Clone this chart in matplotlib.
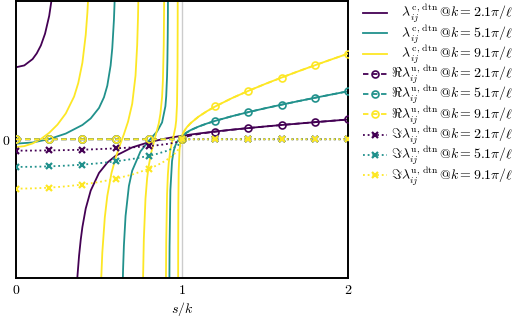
import numpy as np
import matplotlib
matplotlib.use("Agg")
import matplotlib.pyplot as plt

plt.rcParams['mathtext.fontset'] = 'cm'
plt.rcParams['font.family'] = ['DejaVu Serif']

# wavenumbers (in units of pi/ell) and colours
k_labels = ["2.1", "5.1", "9.1"]
colors = ["#440154", "#21918c", "#fde725"]

# ---- lambda^c,dtn branches (x = s/k, y = value) ----
c_purple = [
    ([0, 0.05, 0.1, 0.125, 0.15, 0.175, 0.2, 0.22, 0.25],
     [41.65, 42.72, 46.39, 49.7, 54.3, 61.1, 71.4, 84.4, 122]),
    ([0.35, 0.37, 0.38, 0.39, 0.4, 0.42, 0.45, 0.5, 0.55, 0.6, 0.7, 0.8, 0.9, 0.95,
      1.0, 1.02, 1.05, 1.1, 1.2, 1.3, 1.4, 1.5, 1.6, 1.8, 2.0],
     [-119.7, -79.4, -67.3, -58.1, -50.8, -40.1, -29.7, -19.5, -13.53, -9.59, -4.71,
      -1.71, 0.385, 1.237, 2.0, 2.285, 2.695, 3.333, 4.487, 5.526, 6.484, 7.386,
      8.244, 9.874, 11.426]),
]
c_teal = [
    ([0, 0.1, 0.2, 0.3, 0.4, 0.45, 0.5, 0.53, 0.55, 0.57, 0.58, 0.59, 0.595, 0.6],
     [-2.54, -1.87, 0.08, 3.29, 8.25, 12.05, 18.1, 24.3, 31.0, 42.7, 52.7, 69.2, 82.1, 101.5]),
    ([0.64, 0.645, 0.65, 0.66, 0.68, 0.7, 0.75, 0.8, 0.85, 0.88, 0.9, 0.905, 0.91,
      0.912, 0.914, 0.915, 0.917],
     [-95.8, -75.3, -61.5, -44.4, -27.1, -18.2, -7.02, -0.91, 4.53, 9.74, 19.1, 25.0,
      36.5, 45.2, 59.6, 71.2, 118]),
    ([0.923, 0.925, 0.93, 0.94, 0.95, 0.96, 0.97, 0.99, 1.0, 1.02, 1.05, 1.1, 1.15,
      1.2, 1.3, 1.4, 1.5, 1.6, 1.7, 1.8, 1.9, 2.0],
     [-104.6, -62.2, -29.5, -12.64, -6.71, -3.57, -1.54, 1.07, 2.0, 3.49, 5.19, 7.35,
      9.10, 10.63, 13.31, 15.70, 17.91, 20.01, 22.03, 23.98, 25.88, 27.75]),
]
c_yellow = [
    ([0, 0.05, 0.1, 0.15, 0.2, 0.25, 0.3, 0.35, 0.375, 0.4, 0.42, 0.43, 0.435, 0.44],
     [-4.53, -3.99, -2.43, 0.14, 3.72, 8.47, 14.95, 24.7, 32.5, 44.3, 60.4, 73.2, 82.0, 92.9]),
    ([0.5, 0.51, 0.52, 0.535, 0.55, 0.575, 0.6, 0.625, 0.65, 0.675, 0.7, 0.72, 0.73,
      0.735, 0.738, 0.74],
     [-130.5, -88.5, -65.5, -45.2, -32.8, -19.6, -10.78, -3.66, 2.91, 10.18, 20.5,
      36.8, 54.5, 70.7, 85.9, 100.3]),
    ([0.76, 0.765, 0.77, 0.78, 0.79, 0.8, 0.815, 0.83, 0.86, 0.87, 0.88, 0.885, 0.89, 0.893],
     [-137, -82.7, -58.0, -34.4, -22.5, -15.16, -7.57, -1.90, 9.13, 14.74, 24.5, 34.1,
      54.6, 85.1]),
    ([0.902, 0.903, 0.905, 0.91, 0.915, 0.92, 0.93, 0.94, 0.95, 0.96, 0.965, 0.97,
      0.973, 0.974, 0.9745],
     [-109.9, -86.0, -59.3, -31.8, -20.3, -13.8, -6.32, -1.62, 2.27, 6.87, 10.76, 20.1,
      41.5, 66.8, 97.4]),
    ([0.9765, 0.977, 0.978, 0.98, 0.985, 0.99, 0.995, 1.0, 1.005, 1.01, 1.02, 1.03,
      1.05, 1.1, 1.15, 1.2, 1.3, 1.4, 1.5, 1.6, 1.7, 1.8, 1.9, 2.0],
     [-101, -64.9, -37.0, -18.6, -6.15, -1.93, 0.41, 2.0, 3.21, 4.20, 5.78, 7.06,
      9.15, 13.10, 16.23, 18.96, 23.75, 28.01, 31.96, 35.71, 39.30, 42.79, 46.19, 49.52]),
]
c_branches = [c_purple, c_teal, c_yellow]

# ---- lambda^u,dtn real / imaginary parts on a common s/k grid ----
s_u = [0, 0.1, 0.2, 0.3, 0.4, 0.5, 0.6, 0.7, 0.8, 0.85, 0.9, 0.94, 0.97, 0.99, 1.0,
       1.01, 1.03, 1.06, 1.1, 1.15, 1.2, 1.3, 1.4, 1.5, 1.6, 1.7, 1.8, 1.9, 2.0]
re_purple = [0]*15 + [0.94, 1.63, 2.32, 3.02, 3.75, 4.38, 5.48, 6.46, 7.38, 8.24, 9.07, 9.87, 10.66, 11.43]
re_teal = [0]*15 + [2.27, 3.95, 5.63, 7.34, 9.10, 10.63, 13.31, 15.70, 17.91, 20.01, 22.03, 23.98, 25.88, 27.75]
re_yellow = [0]*15 + [4.05, 7.05, 10.05, 13.10, 16.23, 18.96, 23.75, 28.01, 31.96, 35.71, 39.30, 42.79, 46.19, 49.52]
im_purple = [-6.60, -6.56, -6.46, -6.29, -6.05, -5.71, -5.28, -4.71, -3.96, -3.48, -2.88, -2.25, -1.60, -0.93, 0] + [0]*14
im_teal = [-16.02, -15.94, -15.70, -15.28, -14.68, -13.88, -12.82, -11.44, -9.61, -8.44, -6.98, -5.47, -3.89, -2.26, 0] + [0]*14
im_yellow = [-28.59, -28.44, -28.01, -27.27, -26.20, -24.76, -22.87, -20.42, -17.15, -15.06, -12.46, -9.75, -6.95, -4.03, 0] + [0]*14
re_u = [re_purple, re_teal, re_yellow]
im_u = [im_purple, im_teal, im_yellow]

fig = plt.figure(figsize=(5.24, 3.20), dpi=100)
ax = fig.add_axes([16/524, 1 - 277.5/320, (348 - 16)/524, (277.5 - 1)/320])

ax.axvline(1.0, color="#cccccc", lw=1.0, zorder=0)

mark_idx = [i for i, v in enumerate(s_u) if abs(v * 5 - round(v * 5)) < 1e-9]

handles = []
for i, br in enumerate(c_branches):
    for xs, ys in br:
        ln, = ax.plot(xs, ys, color=colors[i], lw=1.3, zorder=2)
    ln.set_label(r"$\hspace{0.9}\lambda_{ij}^{\mathrm{c,\,dtn}}\,@k = %s\pi/\ell$" % k_labels[i])
    handles.append(ln)

for i in range(3):
    ln, = ax.plot(s_u, re_u[i], color=colors[i], lw=1.3, ls=(0, (3, 2)), marker="o",
                  markevery=mark_idx, ms=5, mfc="none", mew=1.2, zorder=3,
                  label=r"$\Re\lambda_{ij}^{\mathrm{u,\,dtn}}\,@k = %s\pi/\ell$" % k_labels[i])
    handles.append(ln)
for i in range(3):
    ln, = ax.plot(s_u, im_u[i], color=colors[i], lw=1.3, ls=(0, (1, 1.6)), marker="x",
                  markevery=mark_idx, ms=5, mew=1.6, zorder=3,
                  label=r"$\Im\lambda_{ij}^{\mathrm{u,\,dtn}}\,@k = %s\pi/\ell$" % k_labels[i])
    handles.append(ln)

ax.set_xlim(0, 2)
ax.set_ylim(-80, 80)
ax.set_xticks([0, 1, 2])
ax.set_xticklabels([r"$0$", r"$1$", r"$2$"], fontsize=10)
ax.set_yticks([0])
ax.set_yticklabels([r"$0$"], fontsize=10)
ax.tick_params(length=0, pad=4)
ax.set_xlabel(r"$s/k$", fontsize=10, labelpad=2)
for sp in ax.spines.values():
    sp.set_linewidth(1.4)

leg = ax.legend(handles=handles, loc="upper left", bbox_to_anchor=(1.028, 1.015),
                frameon=False, fontsize=10, handlelength=1.75, handletextpad=0.25,
                labelspacing=-0.2, borderaxespad=0.0)

fig.savefig("out.png", dpi=100)
